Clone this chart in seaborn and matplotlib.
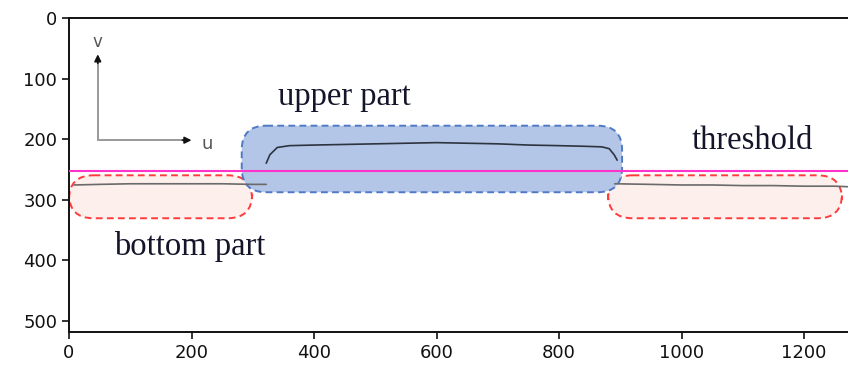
import matplotlib
matplotlib.use("Agg")
import matplotlib.pyplot as plt
import seaborn as sns
import pandas as pd
from matplotlib.patches import FancyBboxPatch

# -------------------------
# Data (image pixel coords: u right, v down)
# -------------------------
left_u = [8, 50, 100, 150, 200, 250, 300, 322]
left_v = [276, 275, 274, 274, 274, 274, 275, 275]

upper_u = [322, 328, 340, 360, 400, 450, 500, 550, 600, 650, 700, 750, 800, 840, 870, 882, 890, 895]
upper_v = [240, 226, 214, 211, 210, 209, 208, 207, 206, 207, 208, 210, 211, 212, 213, 216, 226, 235]

right_u = [891, 950, 1000, 1050, 1100, 1150, 1200, 1250, 1275]
right_v = [274, 275, 276, 276, 277, 277, 278, 278, 279]

threshold_v = 253

# region boxes: (u0, v0, u1, v1)
upper_box = (282, 178, 903, 288)
bottom_left_box = (0, 260, 299, 331)
bottom_right_box = (880, 260, 1262, 331)

x_ticks = [0, 200, 400, 600, 800, 1000, 1200]
y_ticks = [0, 100, 200, 300, 400, 500]

sns.set_style("ticks")
plt.rcParams['font.family'] = ['DejaVu Sans']

fig = plt.figure(figsize=(8.48, 3.73), dpi=100)
ax = fig.add_axes([69 / 848, 1 - 332 / 373, 784 / 848, 314 / 373])

# -------------------------
# Region boxes
# -------------------------
def add_box(box, face, edge):
    u0, v0, u1, v1 = box
    patch = FancyBboxPatch(
        (u0, v0), u1 - u0, v1 - v0,
        boxstyle="round,pad=0,rounding_size=40",
        facecolor=face, edgecolor=edge,
        linestyle=(0, (3.5, 2.2)), linewidth=1.4, zorder=1
    )
    ax.add_patch(patch)

add_box(bottom_left_box, "#fdf0ec", "#ff3b3b")
add_box(bottom_right_box, "#fdf0ec", "#ff3b3b")
add_box(upper_box, "#b4c6e7", "#4f79c4")

# -------------------------
# Profile line
# -------------------------
for name, uu, vv, col in [("left", left_u, left_v, "#6a6a6a"),
                          ("upper", upper_u, upper_v, "#2e3340"),
                          ("right", right_u, right_v, "#6a6a6a")]:
    df = pd.DataFrame({"u": uu, "v": vv})
    sns.lineplot(data=df, x="u", y="v", sort=False, color=col,
                 linewidth=1.2, ax=ax, zorder=2)

# threshold line
ax.axhline(threshold_v, color="#ff33cc", linewidth=1.5, zorder=3)

# -------------------------
# u / v direction arrows
# -------------------------
ax.plot([47, 47], [202, 70], color="#999999", lw=1.4)
ax.plot([47, 190], [202, 202], color="#999999", lw=1.4)
ax.annotate("", xy=(47, 60), xytext=(47, 75),
            arrowprops=dict(arrowstyle="-|>", color="#111111", lw=1.2,
                            mutation_scale=10, shrinkA=0, shrinkB=0))
ax.annotate("", xy=(200, 202), xytext=(185, 202),
            arrowprops=dict(arrowstyle="-|>", color="#111111", lw=1.2,
                            mutation_scale=10, shrinkA=0, shrinkB=0))
ax.text(47, 40, "v", ha="center", va="center", fontsize=12, color="#555555")
ax.text(225, 208, "u", ha="center", va="center", fontsize=13, color="#555555")

# -------------------------
# Text labels
# -------------------------
serif = ["Liberation Serif", "DejaVu Serif"]
ax.text(450, 130, "upper part", ha="center", va="center", fontsize=23.5,
        family=serif, color="#14142a")
ax.text(1115, 203, "threshold", ha="center", va="center", fontsize=23.5,
        family=serif, color="#14142a")
ax.text(197, 378, "bottom part", ha="center", va="center", fontsize=23.5,
        family=serif, color="#14142a")

# -------------------------
# Axes
# -------------------------
ax.set_xlim(0, 1280)
ax.set_ylim(519, 0)
ax.set_xticks(x_ticks)
ax.set_yticks(y_ticks)
ax.set_xlabel("")
ax.set_ylabel("")
ax.tick_params(labelsize=13, length=5, width=1.2, color="#111111",
               labelcolor="#111111")
for s in ax.spines.values():
    s.set_linewidth(1.4)
    s.set_color("#111111")
    s.set_visible(True)

plt.savefig("out.png", dpi=100)
